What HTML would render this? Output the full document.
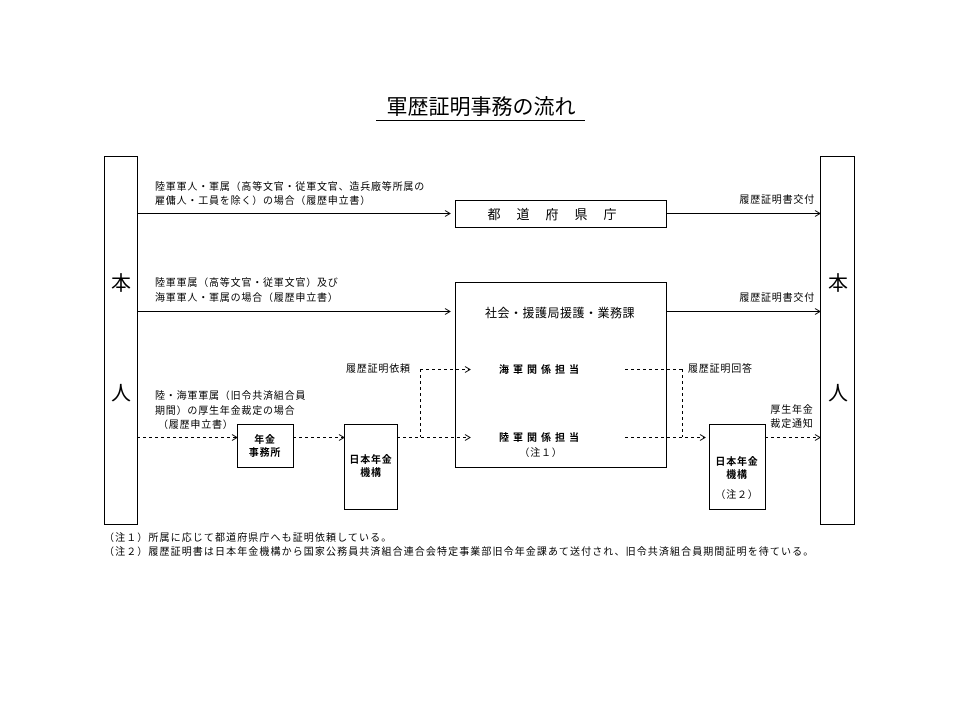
<!DOCTYPE html>
<html><head><meta charset="utf-8"><style>
html,body{margin:0;padding:0;background:#fff;}
svg text{font-family:"Liberation Sans","Noto Sans CJK JP",sans-serif;fill:#000;}
</style></head><body>
<svg width="960" height="720" viewBox="0 0 960 720" xmlns="http://www.w3.org/2000/svg">
<g stroke="#000" stroke-width="1" fill="none" shape-rendering="crispEdges">
<rect x="104.5" y="156.5" width="33" height="368"/>
<rect x="820.5" y="156.5" width="34" height="368"/>
<rect x="455.5" y="200.5" width="211" height="27"/>
<rect x="455.5" y="282.5" width="211" height="185"/>
<rect x="237.5" y="424.5" width="56" height="43"/>
<rect x="344.5" y="424.5" width="53" height="85"/>
<rect x="709.5" y="424.5" width="56" height="85"/>
<line x1="376" y1="120.5" x2="585" y2="120.5"/>
<line x1="137" y1="213.5" x2="449" y2="213.5"/>
<line x1="666" y1="213.5" x2="819" y2="213.5"/>
<line x1="137" y1="311.5" x2="449" y2="311.5"/>
<line x1="666" y1="311.5" x2="819" y2="311.5"/>
<g stroke-dasharray="3,3">
<line x1="137" y1="437.5" x2="236" y2="437.5"/>
<line x1="293" y1="437.5" x2="343" y2="437.5"/>
<line x1="397" y1="437.5" x2="469" y2="437.5"/>
<line x1="420.5" y1="369" x2="420.5" y2="437"/>
<line x1="420" y1="369.5" x2="469" y2="369.5"/>
<line x1="625" y1="369.5" x2="682" y2="369.5"/>
<line x1="682.5" y1="369" x2="682.5" y2="437"/>
<line x1="625" y1="437.5" x2="704" y2="437.5"/>
<line x1="765" y1="437.5" x2="819" y2="437.5"/>
</g>
</g>
<g stroke="#000" stroke-width="1" fill="none">
<polyline points="445,210.5 450,213.5 445,216.5"/>
<polyline points="815,210.5 820,213.5 815,216.5"/>
<polyline points="445,308.5 450,311.5 445,314.5"/>
<polyline points="815,308.5 820,311.5 815,314.5"/>
<polyline points="232,434.5 237,437.5 232,440.5"/>
<polyline points="339,434.5 344,437.5 339,440.5"/>
<polyline points="465,434.5 470,437.5 465,440.5"/>
<polyline points="465,366.5 470,369.5 465,372.5"/>
<polyline points="700,434.5 705,437.5 700,440.5"/>
<polyline points="815,434.5 820,437.5 815,440.5"/>
</g>
<text x="481" y="114" font-size="21" text-anchor="middle">軍歴証明事務の流れ</text>
<text x="121" y="290" font-size="20" text-anchor="middle">本</text>
<text x="121" y="400" font-size="20" text-anchor="middle">人</text>
<text x="838" y="290" font-size="20" text-anchor="middle">本</text>
<text x="838" y="400" font-size="20" text-anchor="middle">人</text>
<g font-size="10" letter-spacing="0.8">
<text x="155" y="190">陸軍軍人・軍属（高等文官・従軍文官、造兵廠等所属の</text>
<text x="155" y="204">雇傭人・工員を除く）の場合（履歴申立書）</text>
<text x="155" y="286">陸軍軍属（高等文官・従軍文官）及び</text>
<text x="155" y="301">海軍軍人・軍属の場合（履歴申立書）</text>
<text x="155" y="399">陸・海軍軍属（旧令共済組合員</text>
<text x="155" y="414">期間）の厚生年金裁定の場合</text>
<text x="158" y="428">（履歴申立書）</text>
<text x="815" y="203" text-anchor="end">履歴証明書交付</text>
<text x="815" y="301" text-anchor="end">履歴証明書交付</text>
<text x="346" y="372">履歴証明依頼</text>
<text x="688" y="372">履歴証明回答</text>
<text x="792" y="413" text-anchor="middle">厚生年金</text>
<text x="792" y="427" text-anchor="middle">裁定通知</text>
<text x="541" y="456" text-anchor="middle">（注１）</text>
<text x="737" y="498" text-anchor="middle">（注２）</text>
<text x="104" y="541" letter-spacing="1.1">（注１）所属に応じて都道府県庁へも証明依頼している。</text>
<text x="104" y="555" letter-spacing="1.1">（注２）履歴証明書は日本年金機構から国家公務員共済組合連合会特定事業部旧令年金課あて送付され、旧令共済組合員期間証明を待ている。</text>
<g font-weight="bold">
<text x="541" y="373" text-anchor="middle" letter-spacing="4">海軍関係担当</text>
<text x="541" y="441" text-anchor="middle" letter-spacing="4">陸軍関係担当</text>
<text x="265" y="443" text-anchor="middle">年金</text>
<text x="265" y="456" text-anchor="middle">事務所</text>
<text x="371" y="463" text-anchor="middle">日本年金</text>
<text x="371" y="476" text-anchor="middle">機構</text>
<text x="737" y="465" text-anchor="middle">日本年金</text>
<text x="737" y="478" text-anchor="middle">機構</text>
</g>
</g>
<text x="560" y="219" font-size="13" text-anchor="middle" letter-spacing="16">都道府県庁</text>
<text x="560" y="317" font-size="12" text-anchor="middle" letter-spacing="0.5">社会・援護局援護・業務課</text>
</svg>
</body></html>
